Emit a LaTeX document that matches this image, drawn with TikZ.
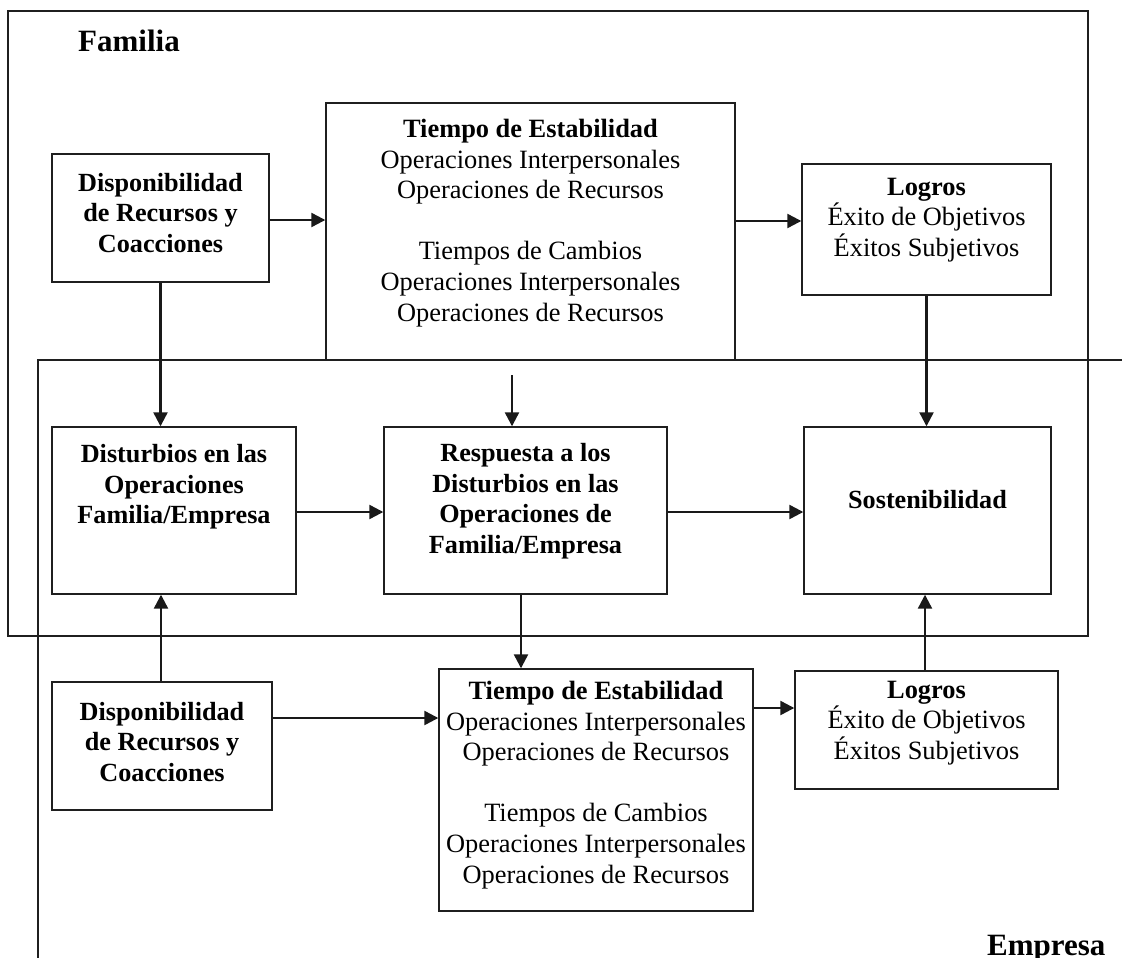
\documentclass[tikz,border=0pt]{standalone}
\usepackage{fontspec}
\setmainfont{Liberation Serif}
\usetikzlibrary{arrows.meta}
\begin{document}
\begin{tikzpicture}[x=1pt,y=-1pt,
  frame/.style={draw=black!88,line width=1.4pt},
  box/.style={draw=black!88,line width=1.4pt,inner sep=0pt,fill=none},
  txt/.style={align=center,inner sep=0pt,font=\fontsize{26.4}{30.6}\selectfont},
  txtb/.style={txt,font=\fontsize{26.2}{30.6}\selectfont\bfseries},
  lab/.style={inner sep=0pt,font=\fontsize{31}{36}\selectfont\bfseries},
  arr/.style={draw=black!90,line width=2.3pt,-{Triangle[length=14pt,width=14pt]}}
]
\useasboundingbox (0,0) rectangle (1122,958);

% --- outer frames
\draw[frame] (8,11) rectangle (1088,636);
\draw[frame] (38,958) -- (38,360) -- (1122,360);
\node[lab,anchor=base west] (familia) at (78,52) {Familia};
\node[lab,anchor=base west] (empresa) at (987,955) {Empresa};

% --- family row
\node[box,minimum width=217,minimum height=128] (d1) at (160.5,218) {};
\node[txtb] (d1t) at (160.5,213) {Disponibilidad\\de Recursos y\\Coacciones};

\node[box,minimum width=409,minimum height=257] (t1) at (530.5,231.5) {};
\node[txt] (t1t) at (530.5,223) {\textbf{Tiempo de Estabilidad}\\Operaciones Interpersonales\\Operaciones de Recursos\\[30.6pt]Tiempos de Cambios\\Operaciones Interpersonales\\Operaciones de Recursos};

\node[box,minimum width=249,minimum height=131] (l1) at (926.5,229.5) {};
\node[txt] (l1t) at (926.5,220) {\textbf{Logros}\\Éxito de Objetivos\\Éxitos Subjetivos};

% --- middle row
\node[box,minimum width=244,minimum height=167] (dist) at (174,510.5) {};
\node[txtb] (distt) at (174,487) {Disturbios en las\\Operaciones\\Familia/Empresa};

\node[box,minimum width=283,minimum height=167] (resp) at (525.5,510.5) {};
\node[txtb] (respt) at (525.5,501) {Respuesta a los\\Disturbios en las\\Operaciones de\\Familia/Empresa};

\node[box,minimum width=247,minimum height=167] (sost) at (927.5,510.5) {};
\node[txtb] (sostt) at (927.5,500) {Sostenibilidad};

% --- business row
\node[box,minimum width=220,minimum height=128] (d2) at (162,746) {};
\node[txtb] (d2t) at (162,742) {Disponibilidad\\de Recursos y\\Coacciones};

\node[box,minimum width=314,minimum height=242] (t2) at (596,790) {};
\node[txt] (t2t) at (596,785) {\textbf{Tiempo de Estabilidad}\\Operaciones Interpersonales\\Operaciones de Recursos\\[30.6pt]Tiempos de Cambios\\Operaciones Interpersonales\\Operaciones de Recursos};

\node[box,minimum width=263,minimum height=118] (l2) at (926.5,730) {};
\node[txt] (l2t) at (926.5,723) {\textbf{Logros}\\Éxito de Objetivos\\Éxitos Subjetivos};

% --- connectors
\coordinate (rin) at (512,375);
\draw[arr] (d1.east |- 0,220) -- (t1.west |- 0,220);
\draw[arr] (t1.east |- 0,221) -- (l1.west |- 0,221);
\draw[arr] (d1.south) -- (dist.north -| d1.south);
\draw[arr] (rin) -- (resp.north -| rin);
\draw[arr] (l1.south) -- (sost.north -| l1.south);
\draw[arr] (dist.east |- 0,512) -- (resp.west |- 0,512);
\draw[arr] (resp.east |- 0,512) -- (sost.west |- 0,512);
\draw[arr] (d2.north -| 161,0) -- (dist.south -| 161,0);
\draw[arr] (resp.south -| 521,0) -- (t2.north -| 521,0);
\draw[arr] (l2.north -| 925,0) -- (sost.south -| 925,0);
\draw[arr] (d2.east |- 0,718) -- (t2.west |- 0,718);
\draw[arr] (t2.east |- 0,708) -- (l2.west |- 0,708);
\end{tikzpicture}
\end{document}
